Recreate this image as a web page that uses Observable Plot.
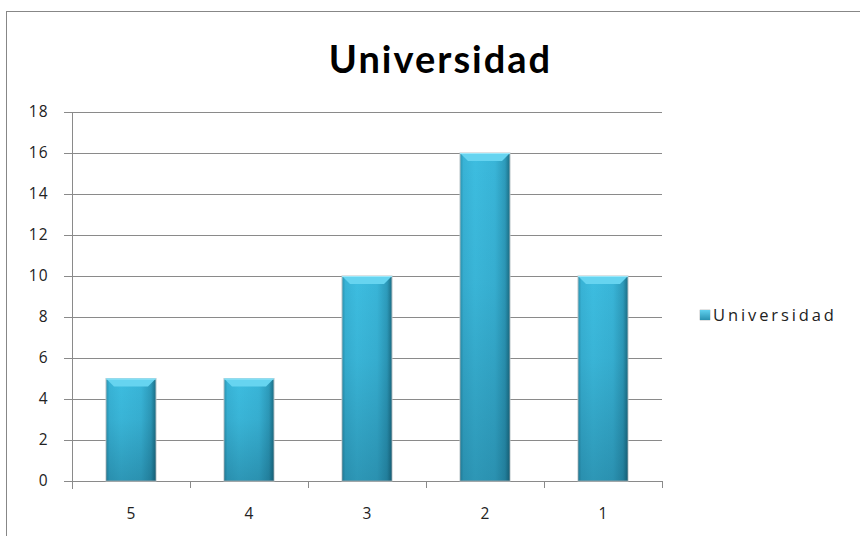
<!DOCTYPE html>
<html><head><meta charset="utf-8">
<script src="https://cdn.jsdelivr.net/npm/d3@7"></script>
<script src="https://cdn.jsdelivr.net/npm/@observablehq/plot@0.6"></script>
<style>
html,body{margin:0;padding:0;background:#fff;overflow:hidden;width:860px;height:536px}
#wrap{position:relative;width:860px;height:536px;overflow:hidden}
#border{position:absolute;left:6px;top:11px;width:900px;height:600px;border:1px solid #878787;box-sizing:border-box}
#title{position:absolute;left:0;width:881px;top:35px;text-align:center;font:bold 38px Lato, sans-serif;letter-spacing:2px;color:#000;line-height:46px}
#legend{position:absolute;left:700px;top:304px;font:16.5px "Open Sans", sans-serif;color:#222;letter-spacing:2.9px;display:flex;align-items:center;line-height:22px}
#legend .sw{width:10px;height:10px;margin-right:3px;background:linear-gradient(to bottom,#5fd0ee,#2a93b2);box-shadow:0 0 1px #555}
#chart{position:absolute;left:0;top:0}
</style>
</head><body>
<div id="wrap">
<div id="border"></div>
<div id="chart"></div>
<div id="title"></div>
<div id="legend"><span class="sw"></span><span id="legtext"></span></div>
</div>
<script>
const categories = ["5", "4", "3", "2", "1"];
const values = [5, 5, 10, 16, 10];
const yTicks = [0, 2, 4, 6, 8, 10, 12, 14, 16, 18];
const seriesName = "Universidad";
const chartTitle = "Universidad";

const data = categories.map((c, i) => ({cat: c, value: values[i]}));

document.getElementById("title").textContent = chartTitle;
document.getElementById("legtext").textContent = seriesName;

const gridColor = "#8a8a8a";

const defsMark = () => {
  const defs = d3.create("svg:defs");
  const h = defs.append("linearGradient").attr("id", "barH").attr("x1", 0).attr("x2", 1).attr("y1", 0).attr("y2", 0);
  [[0, "#2a93b0"], [0.07, "#38b3d6"], [0.3, "#3dbde0"], [0.7, "#39b5d8"], [0.9, "#2d9bbb"], [1, "#1b6d84"]]
    .forEach(([o, c]) => h.append("stop").attr("offset", o).attr("stop-color", c));
  const v = defs.append("linearGradient").attr("id", "barV").attr("x1", 0).attr("x2", 0).attr("y1", 0).attr("y2", 1);
  [[0, "rgba(0,40,60,0)"], [0.4, "rgba(0,40,60,0.06)"], [1, "rgba(0,40,60,0.26)"]]
    .forEach(([o, c]) => v.append("stop").attr("offset", o).attr("stop-color", c));
  return defs.node();
};

const capMark = (index, scales, values_, dims) => {
  const g = d3.create("svg:g");
  const bw = scales.x.bandwidth();
  for (const d of data) {
    const x0 = scales.x(d.cat), x1 = x0 + bw, y = scales.y(d.value);
    const b = 8;
    g.append("polygon")
      .attr("points", `${x0},${y} ${x1},${y} ${x1 - b},${y + b} ${x0 + b},${y + b}`)
      .attr("fill", "#66d4f0");
    g.append("line").attr("x1", x0).attr("x2", x1).attr("y1", y + 0.5).attr("y2", y + 0.5)
      .attr("stroke", "#9be8fa").attr("stroke-width", 1);
  }
  return g.node();
};

const boundaryTicks = (index, scales, values_, dims) => {
  const g = d3.create("svg:g").attr("stroke", gridColor);
  const step = scales.x.step();
  const y0 = scales.y(0);
  for (let k = 1; k <= categories.length; k++) {
    const x = Math.round(dims.marginLeft + k * step) + 0.5;
    g.append("line").attr("x1", x).attr("x2", x).attr("y1", y0).attr("y2", y0 + 7);
  }
  return g.node();
};

const plot = Plot.plot({
  width: 860,
  height: 536,
  marginLeft: 72,
  marginRight: 198,
  marginTop: 112,
  marginBottom: 55,
  style: {fontFamily: "'Open Sans', sans-serif", fontSize: "15px", letterSpacing: "1px", color: "#333", background: "transparent"},
  x: {domain: categories, paddingInner: 0.58, paddingOuter: 0.29, label: null},
  y: {domain: [0, 18], label: null},
  marks: [
    defsMark,
    Plot.gridY(yTicks, {stroke: gridColor, strokeOpacity: 1, insetLeft: -8}),
    Plot.ruleY([0], {stroke: gridColor}),
    Plot.frame({anchor: "left", stroke: gridColor, insetBottom: -7}),
    boundaryTicks,
    Plot.barY(data, {x: "cat", y: "value", fill: "url(#barH)", stroke: "#b8c4c8", strokeWidth: 1}),
    Plot.barY(data, {x: "cat", y: "value", fill: "url(#barV)"}),
    capMark,
    Plot.axisY(yTicks, {tickSize: 0, tickPadding: 24, tickFormat: d => String(d), fill: "#222", fontSize: 15.5}),
    Plot.axisX(categories, {tickSize: 0, tickPadding: 26, fill: "#222", fontSize: 15.5})
  ]
});
document.getElementById("chart").appendChild(plot);
</script>
</body></html>
